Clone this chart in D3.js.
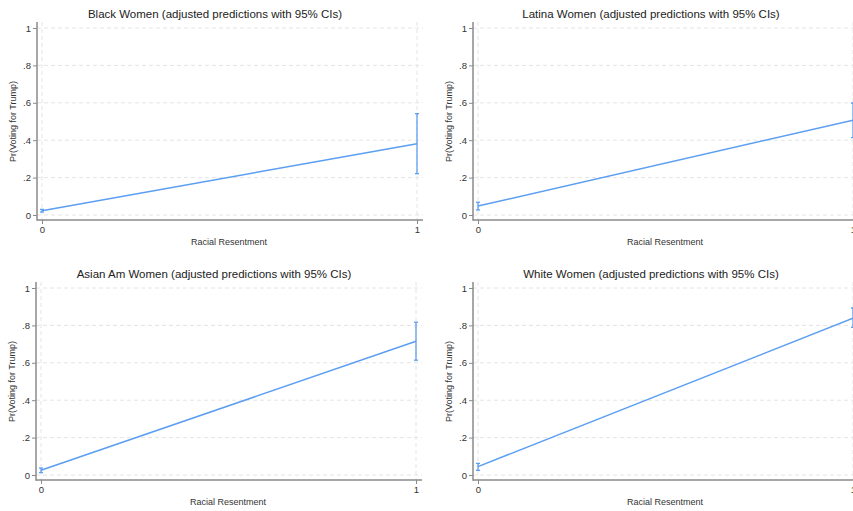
<!DOCTYPE html>
<html>
<head>
<meta charset="utf-8">
<script src="https://cdn.jsdelivr.net/npm/d3@7"></script>
<style>
  html, body { margin: 0; padding: 0; background: #fff; overflow: hidden; }
  text { font-family: "Liberation Sans", Arial, Helvetica, sans-serif; }
</style>
</head>
<body>
<svg id="chart" width="853" height="511"></svg>
<script>
// ---- data ----
const panelTitles = [
  "Black Women (adjusted predictions with 95% CIs)",
  "Latina Women (adjusted predictions with 95% CIs)",
  "Asian Am Women (adjusted predictions with 95% CIs)",
  "White Women (adjusted predictions with 95% CIs)"
];
const xValues = [0, 1];
const xTickLabels = ["0", "1"];
const predicted = [[0.023, 0.381], [0.048, 0.507], [0.025, 0.715], [0.045, 0.838]];
const ciLower   = [[0.016, 0.221], [0.027, 0.414], [0.013, 0.614], [0.025, 0.789]];
const ciUpper   = [[0.030, 0.542], [0.068, 0.599], [0.037, 0.817], [0.062, 0.893]];
const yTicks = [0, 0.2, 0.4, 0.6, 0.8, 1];
const yTickLabels = ["0", ".2", ".4", ".6", ".8", "1"];
const xAxisTitle = "Racial Resentment";
const yAxisTitle = "Pr(Voting for Trump)";

// ---- layout ----
const svg = d3.select("#chart");
svg.append("rect").attr("width", 853).attr("height", 511).attr("fill", "#fff");

const offsets = [[0, 0], [436, 0], [-1, 260], [436, 260]];
const lineColor = "#5b9ef2";
const axisColor = "#8a8a8a";
const gridColor = "#e4e4e4";
const textColor = "#333";

const x = d3.scaleLinear().domain([0, 1]).range([42, 417]);
const y = d3.scaleLinear().domain([0, 1]).range([215, 28]);
const axisX0 = 37, axisY0 = 220, plotRight = 423, plotTop = 22;

panelTitles.forEach((title, i) => {
  const g = svg.append("g").attr("transform", `translate(${offsets[i][0]},${offsets[i][1]})`);

  // gridlines (horizontal)
  g.append("g").selectAll("line").data(yTicks).join("line")
    .attr("x1", axisX0).attr("x2", plotRight)
    .attr("y1", d => y(d)).attr("y2", d => y(d))
    .attr("stroke", gridColor).attr("stroke-width", 1)
    .attr("stroke-dasharray", "4,3");
  // gridlines (vertical)
  g.append("g").selectAll("line").data(xValues).join("line")
    .attr("x1", d => x(d)).attr("x2", d => x(d))
    .attr("y1", plotTop).attr("y2", axisY0)
    .attr("stroke", gridColor).attr("stroke-width", 1)
    .attr("stroke-dasharray", "4,3");

  // y axis
  const yAxis = d3.axisLeft(y).tickValues(yTicks)
    .tickFormat((d, k) => yTickLabels[k]).tickSize(4).tickPadding(2);
  const ya = g.append("g").attr("transform", `translate(${axisX0},0)`).call(yAxis);
  ya.select(".domain").remove();
  ya.append("line").attr("x1", 0).attr("x2", 0).attr("y1", plotTop).attr("y2", axisY0 + 0.75)
    .attr("stroke", axisColor).attr("stroke-width", 1.5);
  ya.selectAll(".tick line").attr("stroke", axisColor).attr("stroke-width", 1);
  ya.selectAll(".tick text").attr("fill", textColor).attr("font-size", 9.5)
    .attr("font-family", "Liberation Sans, Arial, sans-serif");

  // x axis
  const xAxis = d3.axisBottom(x).tickValues(xValues)
    .tickFormat((d, k) => xTickLabels[k]).tickSize(4).tickPadding(2);
  const xa = g.append("g").attr("transform", `translate(0,${axisY0})`).call(xAxis);
  xa.select(".domain").remove();
  xa.append("line").attr("x1", axisX0).attr("x2", plotRight).attr("y1", 0).attr("y2", 0)
    .attr("stroke", axisColor).attr("stroke-width", 1.5);
  xa.selectAll(".tick line").attr("stroke", axisColor).attr("stroke-width", 1);
  xa.selectAll(".tick text").attr("fill", textColor).attr("font-size", 9.5)
    .attr("font-family", "Liberation Sans, Arial, sans-serif");

  // titles
  g.append("text").attr("x", 215).attr("y", 18).attr("text-anchor", "middle")
    .attr("font-size", 11.5).attr("fill", "#222").text(title);
  g.append("text").attr("x", 229).attr("y", 245).attr("text-anchor", "middle")
    .attr("font-size", 9).attr("fill", textColor).text(xAxisTitle);
  g.append("text").attr("transform", `translate(16,${(y(0) + y(1)) / 2}) rotate(-90)`)
    .attr("text-anchor", "middle").attr("font-size", 9).attr("fill", textColor).text(yAxisTitle);

  // CI bars
  const ci = xValues.map((v, k) => ({ x: v, lo: ciLower[i][k], hi: ciUpper[i][k] }));
  g.append("g").selectAll("line").data(ci).join("line")
    .attr("x1", d => x(d.x)).attr("x2", d => x(d.x))
    .attr("y1", d => y(d.lo)).attr("y2", d => y(d.hi))
    .attr("stroke", lineColor).attr("stroke-width", 1.3);
  ["lo", "hi"].forEach(key => {
    g.append("g").selectAll("line").data(ci).join("line")
      .attr("x1", d => x(d.x) - 2).attr("x2", d => x(d.x) + 2)
      .attr("y1", d => y(d[key])).attr("y2", d => y(d[key]))
      .attr("stroke", lineColor).attr("stroke-width", 1.3);
  });

  // prediction line
  const pts = xValues.map((v, k) => [v, predicted[i][k]]);
  g.append("path").datum(pts)
    .attr("d", d3.line().x(d => x(d[0])).y(d => y(d[1])))
    .attr("fill", "none").attr("stroke", lineColor).attr("stroke-width", 1.5);
});
</script>
</body>
</html>
